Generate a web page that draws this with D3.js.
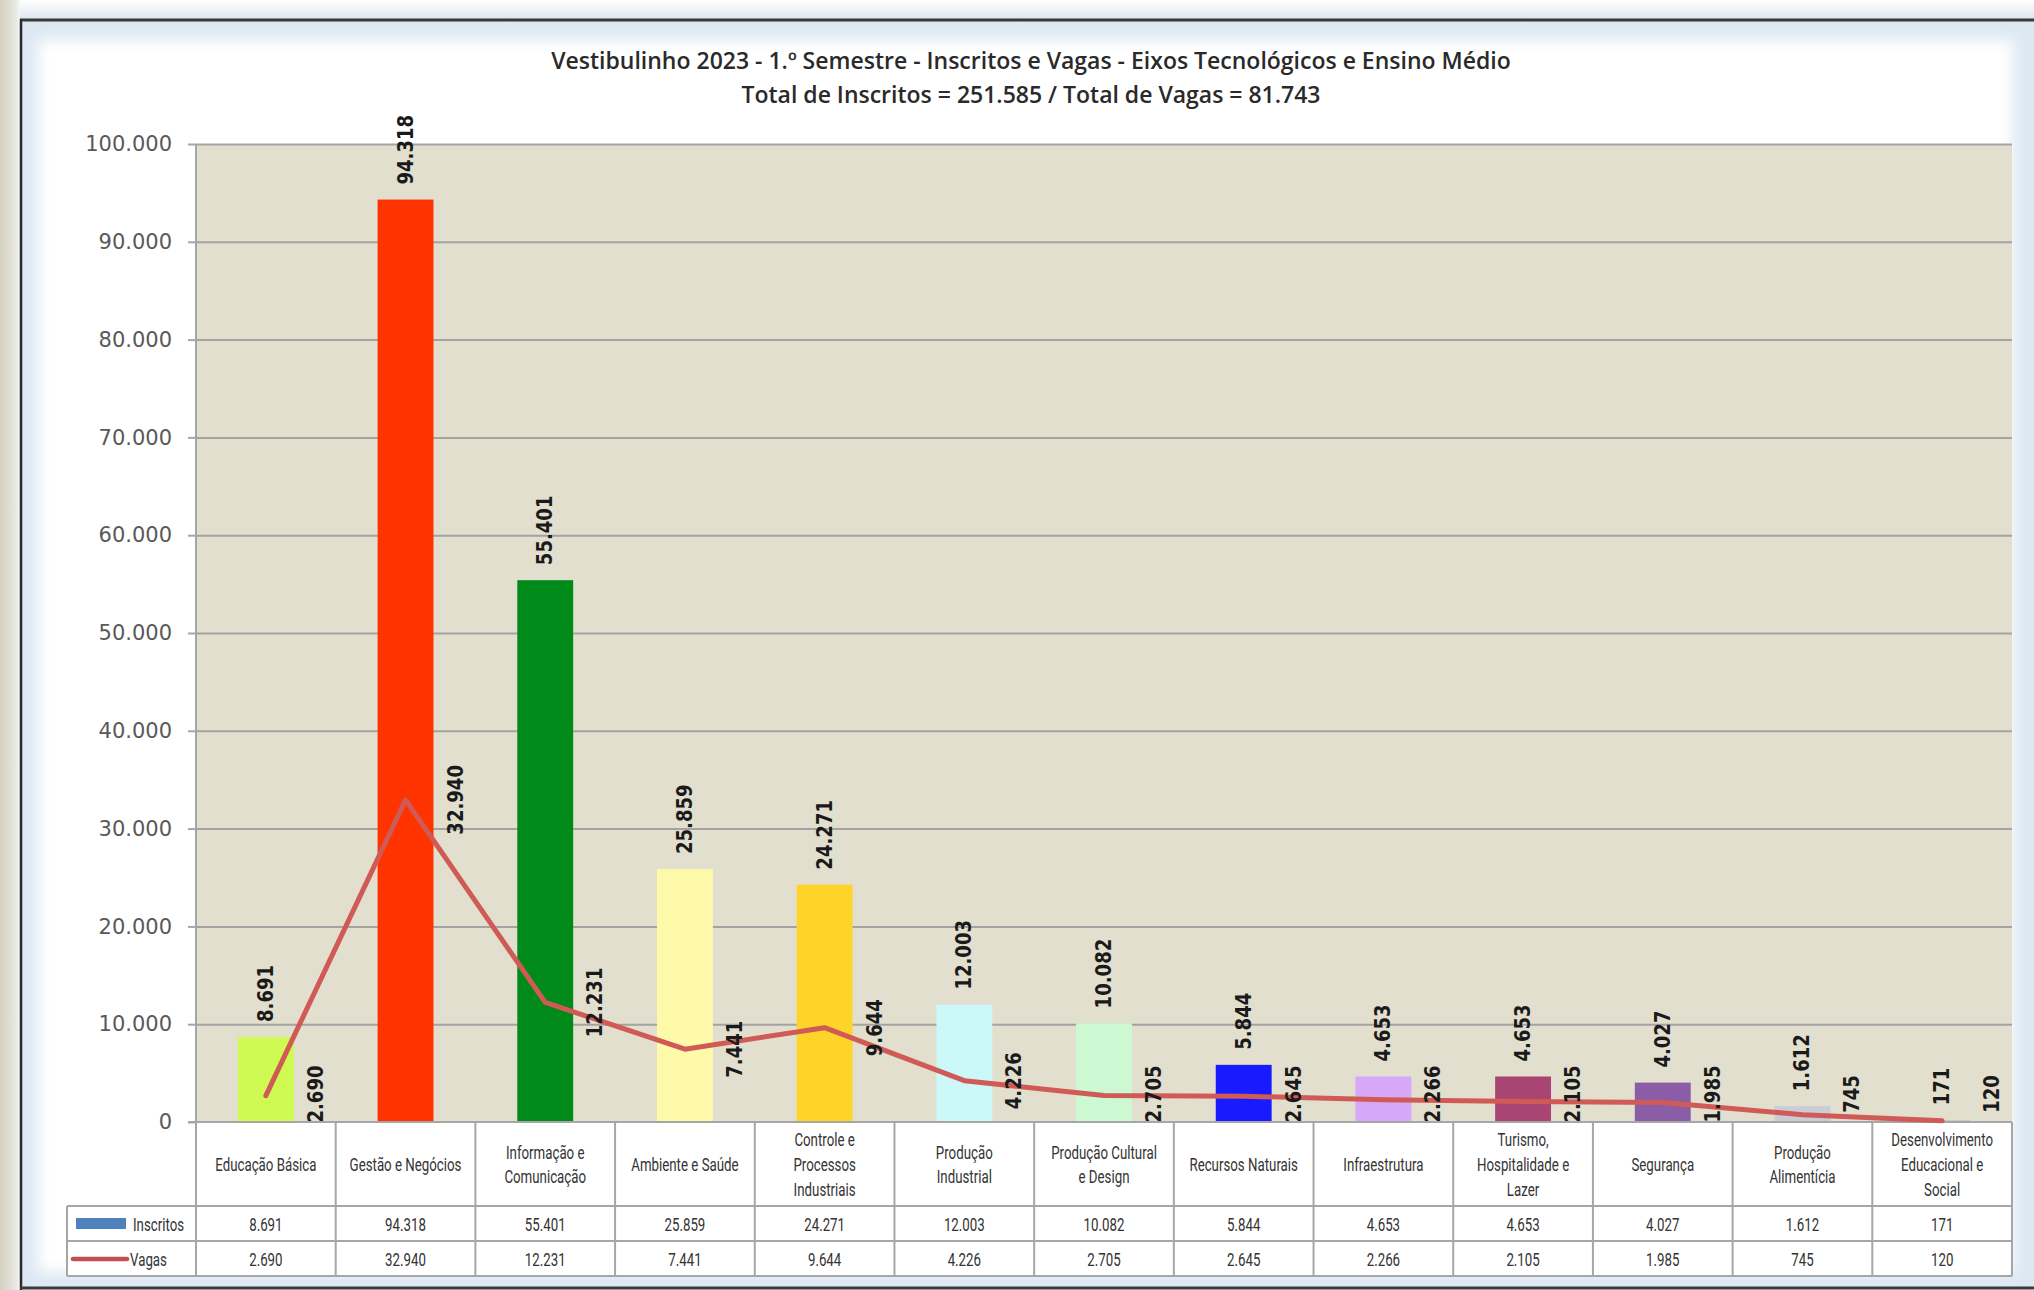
<!doctype html>
<html>
<head>
<meta charset="utf-8">
<title>Vestibulinho 2023 - Inscritos e Vagas</title>
<script src="https://d3js.org/d3.v7.min.js"></script>
<style>
body { margin: 0; background: #fff; }
svg { display: block; }
.title { font-family: "Open Sans", "Noto Sans", sans-serif; font-weight: 600; font-size: 23px; fill: #2a2a2a; text-anchor: middle; }
.yaxis text { font-family: "DejaVu Sans", Verdana, sans-serif; font-size: 21px; fill: #595959; }
.yaxis line { stroke: #a6a6a6; stroke-width: 2; }
.yaxis path { display: none; }
.grid line { stroke: #a3a3a3; stroke-width: 2; }
.grid path { display: none; }
.lbl { font-family: "DejaVu Sans", sans-serif; font-weight: bold; font-size: 21px; fill: #1a1a1a; }
.cell { font-family: Roboto, sans-serif; font-size: 19px; fill: #333; }
</style>
</head>
<body>
<script>

// chart data
var categories = ["Educação Básica", "Gestão e Negócios", "Informação e\nComunicação", "Ambiente e Saúde",
  "Controle e\nProcessos\nIndustriais", "Produção\nIndustrial", "Produção Cultural\ne Design",
  "Recursos Naturais", "Infraestrutura", "Turismo,\nHospitalidade e\nLazer", "Segurança",
  "Produção\nAlimentícia", "Desenvolvimento\nEducacional e\nSocial"];
var inscritos = [8691, 94318, 55401, 25859, 24271, 12003, 10082, 5844, 4653, 4653, 4027, 1612, 171];
var vagas = [2690, 32940, 12231, 7441, 9644, 4226, 2705, 2645, 2266, 2105, 1985, 745, 120];
var seriesNames = ["Inscritos", "Vagas"];
var yTicks = [0, 10000, 20000, 30000, 40000, 50000, 60000, 70000, 80000, 90000, 100000];
var titleLines = ["Vestibulinho 2023 - 1.º Semestre - Inscritos e Vagas - Eixos Tecnológicos e Ensino Médio",
  "Total de Inscritos = 251.585 / Total de Vagas = 81.743"];

var barColors = ["#cffa52", "#ff3300", "#008a1a", "#fffaaa", "#ffd42a", "#ccf8fa", "#ccf8d2",
  "#1a1aff", "#d8a8f8", "#a94573", "#8b5da6", "#c9ccd4", "#bfbfbf"];

var W = 2034, H = 1290;
var plot = {left: 196, right: 2012, top: 144, bottom: 1122};
var rowH = [84, 35, 35];   // header row, Inscritos, Vagas
var legendLeft = 67;

var br = d3.formatLocale({decimal: ",", thousands: ".", grouping: [3], currency: ["R$", ""]});
var fmt = br.format(",d");

var svg = d3.select("body").append("svg")
    .attr("width", W)
    .attr("height", H);

// ---- window frame ----
var defs = svg.append("defs");
var gl = defs.append("linearGradient").attr("id", "leftStrip");
gl.append("stop").attr("offset", "0%").attr("stop-color", "#d6d2c2");
gl.append("stop").attr("offset", "70%").attr("stop-color", "#e4e4dc");
gl.append("stop").attr("offset", "100%").attr("stop-color", "#f4f6f8");
var gt = defs.append("linearGradient").attr("id", "topStrip").attr("x2", 0).attr("y2", 1);
gt.append("stop").attr("offset", "0%").attr("stop-color", "#ffffff");
gt.append("stop").attr("offset", "100%").attr("stop-color", "#dce6ee");
defs.append("filter").attr("id", "soft")
    .attr("x", "-5%").attr("y", "-5%").attr("width", "110%").attr("height", "110%")
  .append("feGaussianBlur").attr("stdDeviation", 7);

svg.append("rect").attr("width", W).attr("height", 20).attr("fill", "url(#topStrip)");
svg.append("rect").attr("width", 20).attr("height", H).attr("fill", "url(#leftStrip)");
svg.append("rect").attr("x", 22).attr("y", 21).attr("width", W - 22).attr("height", 1266).attr("fill", "#dde8f3");
svg.append("rect").attr("x", 38).attr("y", 40).attr("width", 1975).attr("height", 1232)
    .attr("fill", "#fff").attr("filter", "url(#soft)");
svg.append("line").attr("x1", 20).attr("x2", W).attr("y1", 20).attr("y2", 20)
    .attr("stroke", "#3a3a3a").attr("stroke-width", 3);
svg.append("line").attr("x1", 21).attr("x2", 21).attr("y1", 19).attr("y2", H)
    .attr("stroke", "#2a2a2a").attr("stroke-width", 2.5);
svg.append("line").attr("x1", 20).attr("x2", W).attr("y1", 1288).attr("y2", 1288)
    .attr("stroke", "#3a3a3a").attr("stroke-width", 3);

// ---- title ----
svg.selectAll(".title")
    .data(titleLines)
  .enter().append("text")
    .attr("class", "title")
    .attr("x", 1031)
    .attr("y", function(d, i) { return 69 + i * 34; })
    .text(function(d) { return d; });

// ---- scales ----
var x = d3.scaleBand()
    .domain(d3.range(categories.length))
    .range([plot.left, plot.right])
    .padding(0);
var y = d3.scaleLinear()
    .domain([0, 100000])
    .range([plot.bottom, plot.top]);

var barW = x.bandwidth() / 2.5;   // gap width 150%
function cx(i) { return x(i) + x.bandwidth() / 2; }

// plot background
svg.append("rect")
    .attr("x", plot.left).attr("y", plot.top)
    .attr("width", plot.right - plot.left).attr("height", plot.bottom - plot.top)
    .attr("fill", "#e2dfce");

// gridlines
svg.append("g")
    .attr("class", "grid")
    .attr("transform", "translate(" + plot.left + ",0)")
    .call(d3.axisLeft(y).tickValues(yTicks).tickSize(-(plot.right - plot.left)).tickFormat(""));

// y axis
svg.append("g")
    .attr("class", "yaxis")
    .attr("transform", "translate(" + plot.left + ",0)")
    .call(d3.axisLeft(y).tickValues(yTicks).tickSize(8).tickPadding(16).tickFormat(fmt));

// ---- bars ----
svg.selectAll(".bar")
    .data(inscritos)
  .enter().append("rect")
    .attr("class", "bar")
    .attr("x", function(d, i) { return cx(i) - barW / 2; })
    .attr("width", barW)
    .attr("y", function(d) { return y(d); })
    .attr("height", function(d) { return plot.bottom - y(d); })
    .attr("fill", function(d, i) { return barColors[i]; });

// ---- table ----
var tableTop = plot.bottom;
var rowY = [tableTop, tableTop + rowH[0], tableTop + rowH[0] + rowH[1], tableTop + rowH[0] + rowH[1] + rowH[2]];
var tbl = svg.append("g").attr("stroke", "#a6a6a6").attr("stroke-width", 2);
tbl.append("rect")
    .attr("x", plot.left).attr("y", rowY[0])
    .attr("width", plot.right - plot.left).attr("height", rowY[3] - rowY[0])
    .attr("fill", "#fff").attr("stroke", "none");
tbl.append("rect")
    .attr("x", legendLeft).attr("y", rowY[1])
    .attr("width", plot.left - legendLeft).attr("height", rowY[3] - rowY[1])
    .attr("fill", "#fff").attr("stroke", "none");
tbl.selectAll(".vl")
    .data(d3.range(categories.length + 1))
  .enter().append("line")
    .attr("x1", function(i) { return i < categories.length ? x(i) : plot.right; })
    .attr("x2", function(i) { return i < categories.length ? x(i) : plot.right; })
    .attr("y1", rowY[0]).attr("y2", rowY[3]);
tbl.append("line").attr("x1", legendLeft).attr("x2", legendLeft).attr("y1", rowY[1]).attr("y2", rowY[3]);
tbl.selectAll(".hl")
    .data([1, 2, 3])
  .enter().append("line")
    .attr("x1", legendLeft).attr("x2", plot.right)
    .attr("y1", function(k) { return rowY[k]; })
    .attr("y2", function(k) { return rowY[k]; });
// axis line + left border of plot
svg.append("line").attr("x1", plot.left - 8).attr("x2", plot.right)
    .attr("y1", plot.bottom).attr("y2", plot.bottom).attr("stroke", "#a6a6a6").attr("stroke-width", 2);
svg.append("line").attr("x1", plot.left).attr("x2", plot.left)
    .attr("y1", plot.top).attr("y2", rowY[3]).attr("stroke", "#a6a6a6").attr("stroke-width", 2);

// category names
var catText = svg.selectAll(".cat")
    .data(categories)
  .enter().append("text")
    .attr("class", "cell")
    .attr("text-anchor", "middle")
    .attr("transform", function(d, i) {
      var n = d.split("\n").length;
      return "translate(" + cx(i) + "," + (rowY[0] + rowH[0] / 2 + 7 - (n - 1) * 12.3) + ") scale(0.7,1)";
    });
catText.selectAll("tspan")
    .data(function(d) { return d.split("\n"); })
  .enter().append("tspan")
    .attr("x", 0)
    .attr("dy", function(d, j) { return j === 0 ? 0 : 24.6; })
    .text(function(d) { return d; });

// value rows
[inscritos, vagas].forEach(function(arr, r) {
  svg.selectAll(".v" + r)
      .data(arr)
    .enter().append("text")
      .attr("class", "cell")
      .attr("text-anchor", "middle")
      .attr("transform", function(d, i) {
        return "translate(" + cx(i) + "," + (rowY[r + 1] + rowH[r + 1] / 2 + 7) + ") scale(0.7,1)";
      })
      .text(function(d) { return fmt(d); });
});

// legend keys
svg.append("rect").attr("x", 76).attr("y", rowY[1] + 12).attr("width", 50).attr("height", 11).attr("fill", "#4f81bd");
svg.append("line").attr("x1", 73).attr("x2", 127).attr("y1", rowY[2] + 18).attr("y2", rowY[2] + 18)
    .attr("stroke", "#c0504d").attr("stroke-width", 4.5).attr("stroke-linecap", "round");
svg.selectAll(".sname")
    .data(seriesNames)
  .enter().append("text")
    .attr("class", "cell")
    .attr("transform", function(d, i) {
      return "translate(" + (i === 0 ? 133 : 130) + "," + (rowY[i + 1] + rowH[i + 1] / 2 + 7) + ") scale(0.7,1)";
    })
    .text(function(d) { return d; });

// ---- vagas line ----
var line = d3.line()
    .x(function(d, i) { return cx(i); })
    .y(function(d) { return y(d); });
svg.append("path")
    .datum(vagas)
    .attr("fill", "none")
    .attr("stroke", "#d05a55")
    .attr("stroke-width", 5)
    .attr("stroke-linejoin", "round")
    .attr("stroke-linecap", "round")
    .attr("d", line);

// ---- data labels ----
svg.selectAll(".barlbl")
    .data(inscritos)
  .enter().append("text")
    .attr("class", "lbl")
    .attr("transform", function(d, i) {
      return "translate(" + (cx(i) + 7) + "," + (y(d) - 15) + ") rotate(-90) scale(0.86,1)";
    })
    .text(function(d) { return fmt(d); });

// line labels sit right of the point; small values are lifted off the axis
svg.selectAll(".linelbl")
    .data(vagas)
  .enter().append("text")
    .attr("class", "lbl")
    .attr("text-anchor", "middle")
    .attr("transform", function(d, i) {
      var ly = Math.min(y(d), plot.bottom - 28);
      return "translate(" + (cx(i) + 57) + "," + ly + ") rotate(-90) scale(0.86,1)";
    })
    .text(function(d) { return fmt(d); });

</script>
</body>
</html>
